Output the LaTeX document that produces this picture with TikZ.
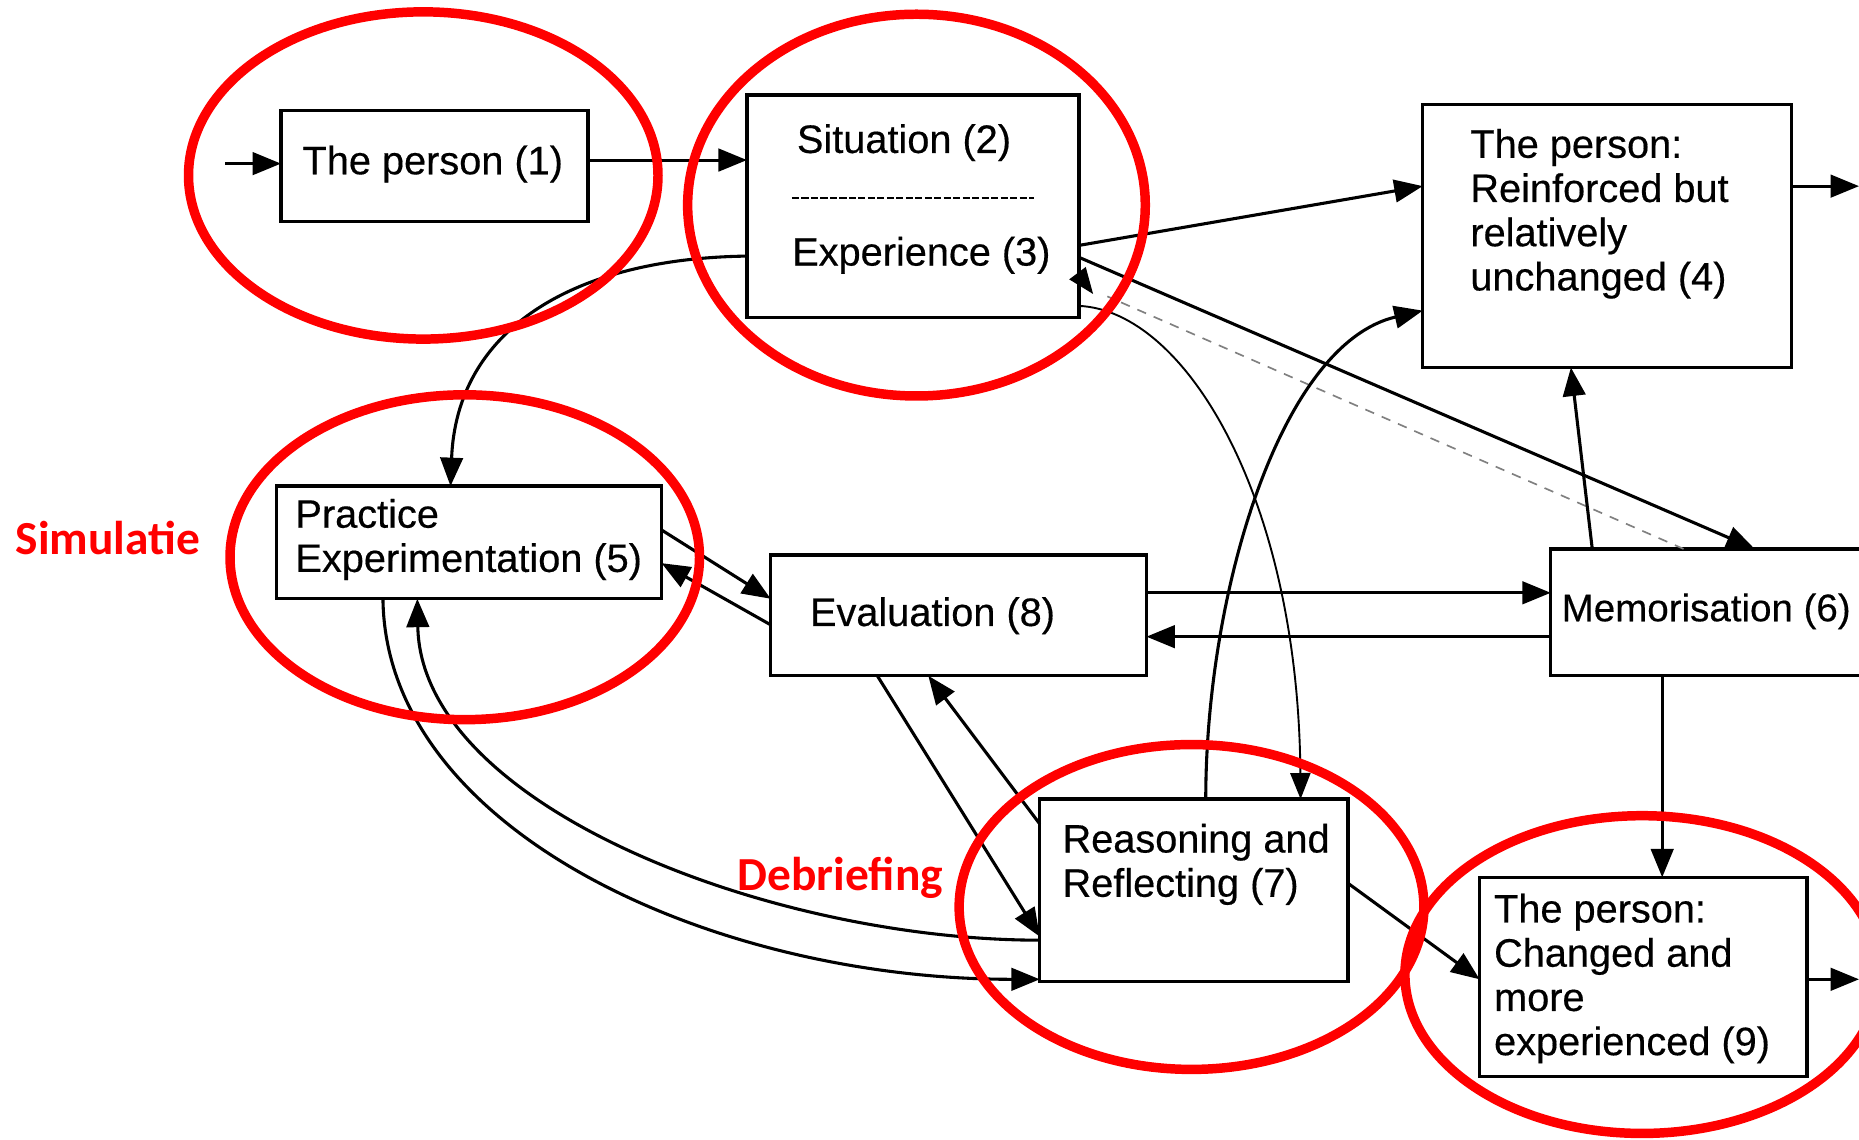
\documentclass[tikz,border=0pt]{standalone}
\usepackage{fontspec}
\setmainfont{Liberation Sans}[UprightFeatures={FakeBold=0.4}]
\newfontfamily\labelfont{Carlito}
\usetikzlibrary{arrows.meta}

\begin{document}
\begin{tikzpicture}[x=1pt,y=-1pt,
  box/.style={draw, line width=2.8pt, inner sep=0pt, outer sep=0pt},
  txt/.style={inner sep=0pt, font=\fontsize{33.5}{37.3}\selectfont},
  mtxt/.style={txt, align=left, anchor=north west},
  arr/.style={line width=2.6pt, -{Triangle[length=24pt,width=19pt]}},
  thinarr/.style={line width=1.6pt, -{Triangle[length=22pt,width=17pt]}},
  ring/.style={draw=red, line width=8pt},
  redlabel/.style={text=red, inner sep=0pt, font=\labelfont\bfseries\fontsize{40}{48}\selectfont},
]
\useasboundingbox (0,0) rectangle (1568,961);
\clip (0,0) rectangle (1568,961);
\fill[white] (0,0) rectangle (1568,961);

% boxes
\node[box, minimum width=259pt, minimum height=94pt]  (b1) at (366.5,140) {};
\node[box, minimum width=280pt, minimum height=188pt] (b2) at (770,174) {};
\node[box, minimum width=311pt, minimum height=222pt] (b4) at (1355.5,199) {};
\node[box, minimum width=325pt, minimum height=95pt]  (b5) at (395.5,457.5) {};
\node[box, minimum width=317pt, minimum height=102pt] (b8) at (808.5,519) {};
\node[box, minimum width=392pt, minimum height=107pt] (b6) at (1504,516.5) {};
\node[box, minimum width=260pt, minimum height=154pt] (b7) at (1007,751) {};
\node[box, minimum width=276pt, minimum height=168pt] (b9) at (1386,824) {};

% box texts
\node[txt, anchor=base west] (t1) at (255,147) {The person (1)};
\node[txt, anchor=base west] (t2) at (672,129) {Situation (2)};
\draw[line width=2.2pt, dash pattern=on 6pt off 2pt] (668,167) -- (872,167);
\node[txt, anchor=base west] (t3) at (668,224) {Experience (3)};
\node[mtxt] (t4) at (1240,108.6) {The person:\\Reinforced but\\relatively\\unchanged (4)};
\node[mtxt] (t5) at (249,420.6) {Practice\\Experimentation (5)};
\node[txt, anchor=base west] (t8) at (683,528) {Evaluation (8)};
\node[txt, anchor=base west, font=\fontsize{32.5}{37.3}\selectfont] (t6) at (1317,524) {Memorisation (6)};
\node[mtxt] (t7) at (896,694.6) {Reasoning and\\Reflecting (7)};
\node[mtxt] (t9) at (1260,753.6) {The person:\\Changed and\\more\\experienced (9)};

% red labels
\node[redlabel, anchor=base west] (sim) at (13,468) {Simulatie};
\node[redlabel, anchor=base west] (deb) at (622,751) {Debriefing};

% free ends
\coordinate (in1) at (190,138);
\coordinate (out4) at (1568,157);
\coordinate (out9) at (1568,826);
\coordinate (tipA) at (922,248);
\coordinate (dashEnd) at (934,250);

% connectors
\draw[arr] (in1) -- ([yshift=2pt]b1.west);
\draw[arr] ([yshift=5pt]b1.east) -- ([yshift=39pt]b2.west);
\draw[arr] ([yshift=-42pt]b2.west) .. controls (480,218) and (385,280) .. ([xshift=-15.5pt]b5.north);
\draw[arr] ([yshift=-33pt]b2.east) -- ([yshift=42pt]b4.west);
\draw[arr] ([yshift=-43pt]b2.east) -- ([xshift=172pt]b6.north west);
\draw[gray, line width=1.4pt, dash pattern=on 8pt off 7pt] ([xshift=112pt]b6.north west) -- (dashEnd);
\draw[thinarr] ([yshift=-58pt]b2.east) -- (tipA);
\draw[thinarr] ([yshift=-84pt]b2.east) .. controls (1000,262) and (1095,420) .. ([xshift=90pt]b7.north);
\draw[arr] ([xshift=10pt]b7.north) .. controls (1017,500) and (1080,290) .. ([yshift=-63pt]b4.west);
\draw[arr] ([xshift=35pt]b6.north west) -- ([xshift=-30.5pt]b4.south);
\draw[arr] ([yshift=10.5pt]b5.east) -- ([yshift=14pt]b8.west);
\draw[arr] ([yshift=-8pt]b8.west) -- ([yshift=-17.5pt]b5.east);
\draw[arr] ([yshift=19pt]b8.east) -- ([yshift=16.5pt]b6.west);
\draw[arr] ([yshift=-20.5pt]b6.west) -- ([yshift=-18pt]b8.east);
\draw[arr] ([xshift=-68.5pt]b8.south) -- ([yshift=-39pt]b7.west);
\draw[arr] ([yshift=56pt]b7.west) -- ([xshift=-25.5pt]b8.south);
\draw[arr] ([xshift=-72.5pt]b5.south) .. controls (325,700) and (600,826) .. ([yshift=-75pt]b7.west);
\draw[arr] ([yshift=-42pt]b7.west) .. controls (650,793) and (355,680) .. ([xshift=-43.5pt]b5.south);
\draw[arr] ([yshift=6pt]b7.east) -- ([yshift=-2pt]b9.west);
\draw[arr] ([xshift=94pt]b6.south west) -- ([xshift=16pt]b9.north);
\draw[arr] ([yshift=-2pt]b9.east) -- (out9);
\draw[arr] ([yshift=42pt]b4.east) -- (out4);

% red rings
\draw[ring] (357,148) ellipse [x radius=198pt, y radius=138pt];
\draw[ring] (773,173) ellipse [x radius=193pt, y radius=161pt];
\draw[ring] (392,470) ellipse [x radius=198pt, y radius=137pt];
\draw[ring] (1005,765) ellipse [x radius=196pt, y radius=137pt];
\draw[ring] (1385,822) ellipse [x radius=200pt, y radius=134pt];
\end{tikzpicture}
\end{document}
